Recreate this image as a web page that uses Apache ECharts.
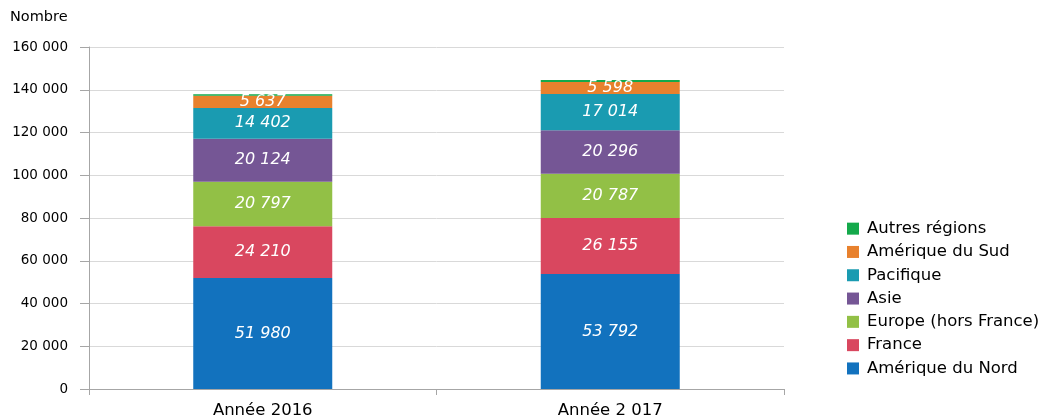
<!DOCTYPE html>
<html><head><meta charset="utf-8">
<script src="https://cdn.jsdelivr.net/npm/echarts@6/dist/echarts.min.js"></script>
<style>html,body{margin:0;padding:0;background:#fff}#c{width:1046px;height:419px}</style>
</head><body><div id="c"></div>
<script>
const categories = ["Année 2016", "Année 2 017"];
const seriesNames = ["Amérique du Nord", "France", "Europe (hors France)", "Asie", "Pacifique", "Amérique du Sud", "Autres régions"];
const ameriqueNord = [51980, 53792];
const france = [24210, 26155];
const europe = [20797, 20787];
const asie = [20124, 20296];
const pacifique = [14402, 17014];
const ameriqueSud = [5637, 5598];
const autres = [700, 900];
const yTicks = [0, 20000, 40000, 60000, 80000, 100000, 120000, 140000, 160000];

const colors = ["#1272BE", "#D9475F", "#92C046", "#755695", "#1A9BB1", "#E8812D", "#14A94B"];
const values = [ameriqueNord, france, europe, asie, pacifique, ameriqueSud, autres];
const font = "DejaVu Sans";
const fmt = v => String(v).replace(/\B(?=(\d{3})+(?!\d))/g, " ");

const chart = echarts.init(document.getElementById('c'));
chart.setOption({
  animation: false,
  textStyle: { fontFamily: font },
  grid: { left: 89, right: 262, top: 47, bottom: 30 },
  legend: {
    orient: 'vertical', left: 842, top: 215, itemWidth: 12, itemHeight: 12, itemGap: 6,
    data: seriesNames.slice().reverse(),
    textStyle: { fontFamily: font, fontSize: 16.5, color: '#000', lineHeight: 17.3, padding: [0, 0, 0, 3] },
    icon: 'rect'
  },
  xAxis: {
    type: 'category', data: categories,
    axisLine: { lineStyle: { color: '#a6a6a6' } },
    axisTick: { show: true, length: 6, lineStyle: { color: '#a6a6a6' } },
    axisLabel: { color: '#000', fontSize: 16.5, margin: 13, fontFamily: font }
  },
  yAxis: {
    type: 'value', min: 0, max: 160000, interval: 20000,
    name: 'Nombre', nameLocation: 'end', nameGap: 22,
    nameTextStyle: { color: '#000', fontSize: 14.5, align: 'left', padding: [0, 0, 0, -79], fontFamily: font },
    axisLine: { show: true, lineStyle: { color: '#a6a6a6' } },
    axisTick: { show: true, length: 9, lineStyle: { color: '#a6a6a6' } },
    splitLine: { lineStyle: { color: '#d9d9d9' } },
    axisLabel: { color: '#000', fontSize: 13.5, margin: 21, fontFamily: font,
      formatter: v => yTicks.includes(v) ? fmt(v) : '' }
  },
  series: seriesNames.map((n, i) => ({
    name: n, type: 'bar', stack: 'total', data: values[i], barWidth: '40%',
    itemStyle: { color: colors[i] },
    label: {
      show: i < 6, position: 'inside', color: '#fff', fontStyle: 'italic', fontSize: 16,
      fontFamily: font, formatter: p => fmt(p.value)
    }
  }))
});
</script></body></html>
